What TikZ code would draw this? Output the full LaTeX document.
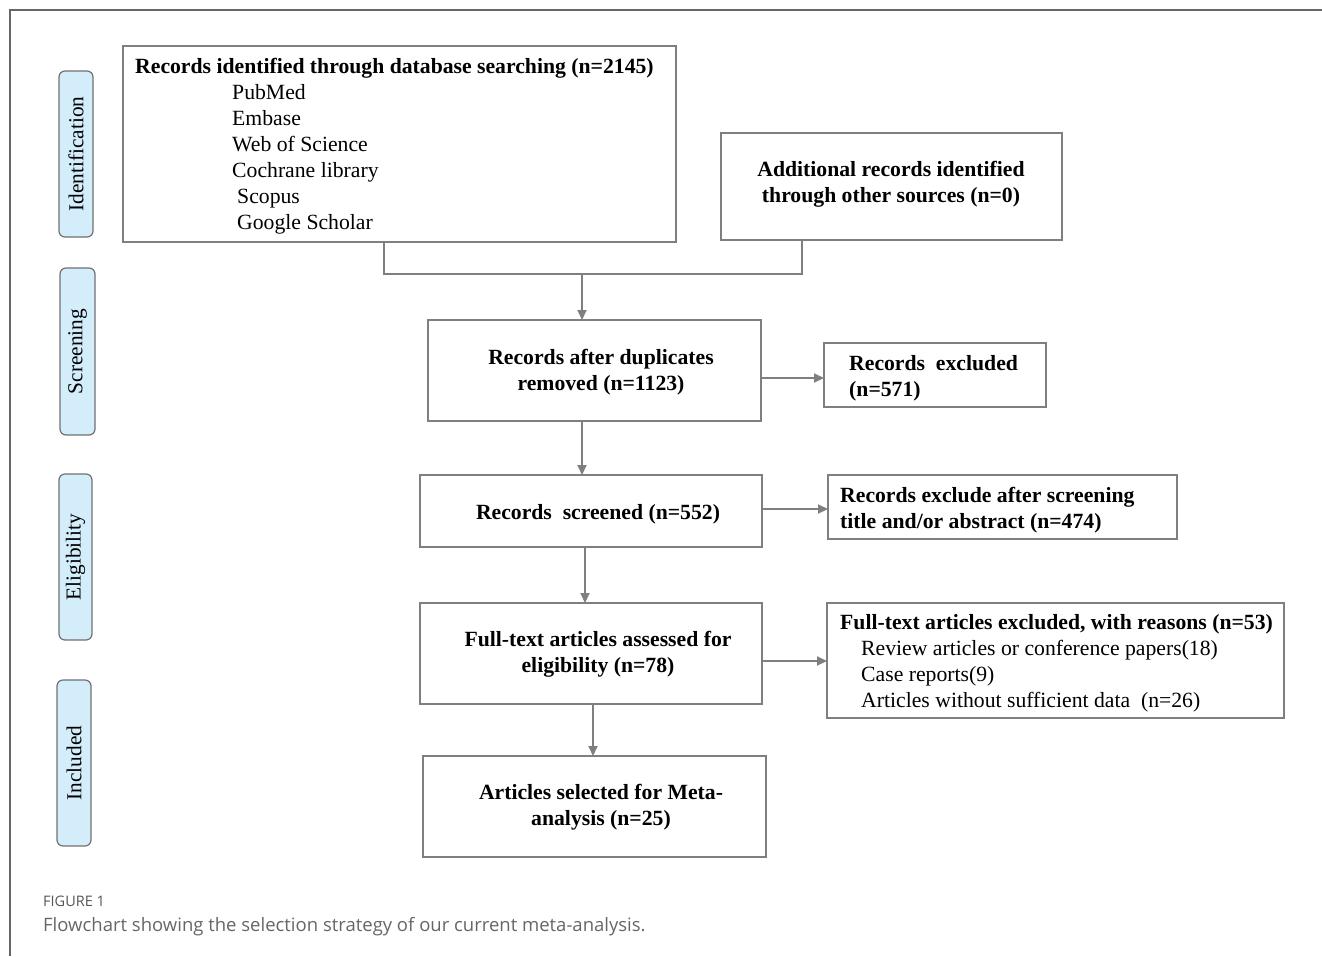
\documentclass[tikz,border=0pt]{standalone}
\usepackage{fontspec}
\setmainfont{Liberation Serif}
\newfontfamily\capfont{Open Sans}
\usetikzlibrary{arrows.meta}
\definecolor{boxgray}{HTML}{7F7F7F}
\definecolor{labfill}{HTML}{D3EDFB}
\definecolor{labline}{HTML}{707070}
\definecolor{capgray}{HTML}{666666}
\definecolor{figgray}{HTML}{555555}
\tikzset{
  box/.style={draw=boxgray, line width=2pt, inner sep=0pt, outer sep=0pt},
  lab/.style={draw=labline, line width=1.2pt, fill=labfill, rounded corners=6pt, inner sep=0pt, outer sep=0pt},
  labtext/.style={rotate=90, font=\fontsize{21.3}{26}\selectfont},
  btxt/.style={font=\fontsize{21.7}{26}\selectfont\bfseries, align=center, inner sep=0pt},
  ltxt/.style={anchor=base west, font=\fontsize{21.7}{26}\selectfont, inner sep=0pt},
  lbtxt/.style={anchor=base west, font=\fontsize{21.7}{26}\selectfont\bfseries, inner sep=0pt},
  conn/.style={draw=boxgray, line width=2pt},
  arr/.style={draw=boxgray, line width=2pt, -{Triangle[length=10pt,width=9pt]}},
}
\newcommand{\mkbox}[5]{\node[box, minimum width={#4-#2}, minimum height={#5-#3}] (#1) at ({(#2+#4)/2},{(#3+#5)/2}) {};}
\newcommand{\mklab}[6]{\node[lab, minimum width={#4-#2}, minimum height={#5-#3}] (#1) at ({(#2+#4)/2},{(#3+#5)/2}) {};
  \node[labtext] (#1t) at (#1.center) {#6};}
\begin{document}
\begin{tikzpicture}[x=1pt,y=-1pt]
\useasboundingbox (0,0) rectangle (1322,956);
% frame
\draw[color=capgray, line width=1.5pt] (10,956) -- (10,10) -- (1322,10);
% side labels
\mklab{lid}{59}{71}{93}{237}{Identification}
\mklab{lsc}{60}{268}{95}{435}{Screening}
\mklab{lel}{59}{474}{92}{640}{Eligibility}
\mklab{lin}{57}{680}{91}{846}{Included}
% boxes
\mkbox{b1}{123}{46}{676}{242}
\mkbox{b2}{721}{133}{1062}{240}
\mkbox{b3}{428}{320}{761}{421}
\mkbox{b4}{824}{343}{1046}{407}
\mkbox{b5}{420}{475}{762}{547}
\mkbox{b6}{828}{475}{1177}{539}
\mkbox{b7}{420}{603}{762}{704}
\mkbox{b8}{827}{603}{1284}{718}
\mkbox{b9}{423}{756}{766}{857}
% box 1 text
\node[lbtxt] (t1) at (135,73) {Records identified through database searching (n=2145)};
\node[ltxt] (t1a) at (232,99) {PubMed};
\node[ltxt] (t1b) at (232,125) {Embase};
\node[ltxt] (t1c) at (232,151) {Web of Science};
\node[ltxt] (t1d) at (232,177) {Cochrane library};
\node[ltxt] (t1e) at (237,203) {Scopus};
\node[ltxt] (t1f) at (237,229) {Google Scholar};
% centered texts
\node[btxt] (t2) at (891,184) {Additional records identified\\through other sources (n=0)};
\node[btxt] (t3) at (601,372) {Records after duplicates\\removed (n=1123)};
\node[btxt] (t5) at (598,514) {Records\ \ screened (n=552)};
\node[btxt] (t7) at (598,654) {Full-text articles assessed for\\eligibility (n=78)};
\node[btxt] (t9) at (601,807) {Articles selected for Meta-\\analysis (n=25)};
% left texts
\node[lbtxt] (t4a) at (849,370) {Records\ \ excluded};
\node[lbtxt] (t4b) at (849,396) {(n=571)};
\node[lbtxt] (t6a) at (840,502) {Records exclude after screening};
\node[lbtxt] (t6b) at (840,528) {title and/or abstract (n=474)};
\node[lbtxt] (t8a) at (840,629) {Full-text articles excluded, with reasons (n=53)};
\node[ltxt] (t8b) at (861,655) {Review articles or conference papers(18)};
\node[ltxt] (t8c) at (861,681) {Case reports(9)};
\node[ltxt] (t8d) at (861,707) {Articles without sufficient data\ \ (n=26)};
% connectors
\coordinate (j1) at (384,274);
\coordinate (j2) at (802,274);
\coordinate (jm) at (582,274);
\draw[conn] (b1.south -| j1) -- (j1) -- (j2) -- (b2.south -| j2);
\draw[arr] (jm) -- (b3.north -| jm);
\draw[arr] (b3.east |- 0,378) -- (b4.west |- 0,378);
\draw[arr] (b3.south -| jm) -- (b5.north -| jm);
\draw[arr] (b5.east |- 0,509) -- (b6.west |- 0,509);
\coordinate (c5) at (585,547);
\draw[arr] (c5) -- (b7.north -| c5);
\draw[arr] (b7.east |- 0,661) -- (b8.west |- 0,661);
\coordinate (c7) at (593,704);
\draw[arr] (c7) -- (b9.north -| c7);
% caption
\node[anchor=base west, inner sep=0pt, font=\capfont\fontsize{14.5}{16}\selectfont, text=figgray] (cap1) at (43,906) {FIGURE 1};
\node[anchor=base west, inner sep=0pt, font=\capfont\fontsize{18.5}{20}\selectfont, text=capgray] (cap2) at (43,931) {Flowchart showing the selection strategy of our current meta-analysis.};
\end{tikzpicture}
\end{document}
